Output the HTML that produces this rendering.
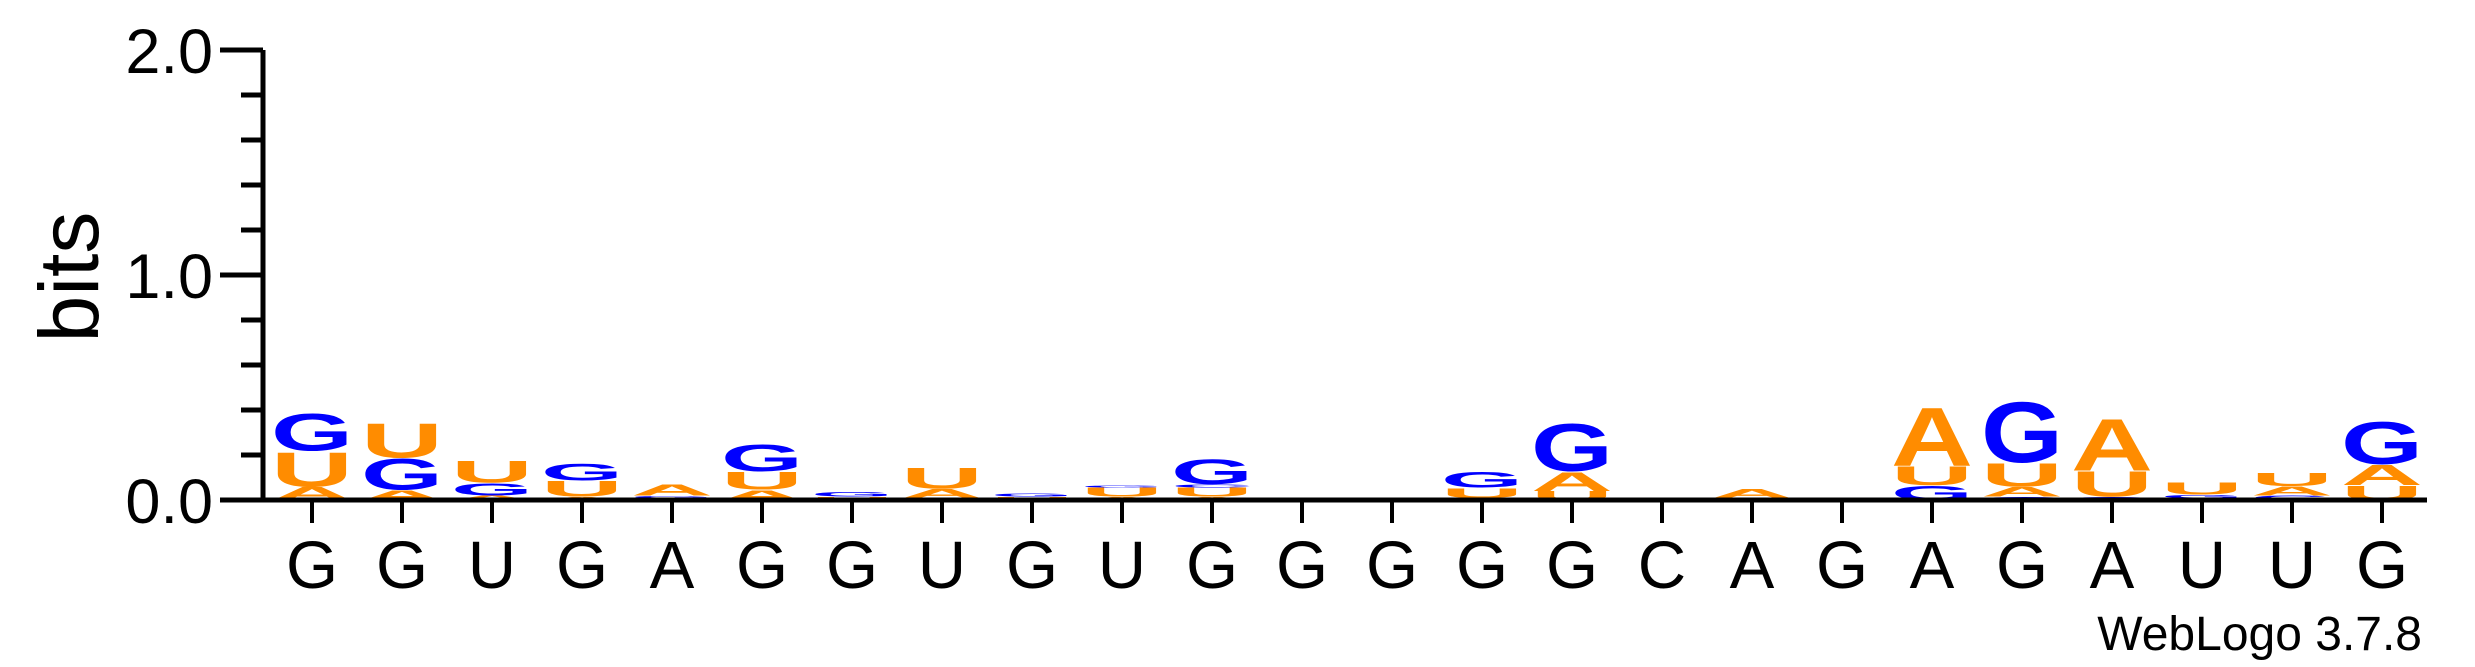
<!DOCTYPE html>
<html><head><meta charset="utf-8"><style>
html,body{margin:0;padding:0;background:#fff;}
svg{display:block;}
text{font-family:"Liberation Sans",Arial,sans-serif;}
</style></head><body>
<svg id="chart" width="2475" height="667" viewBox="0 0 2475 667" xmlns="http://www.w3.org/2000/svg">
<g id="marks"></g>
<g id="axes"></g>
<text x="69" y="277" font-size="84" text-anchor="middle" dominant-baseline="central" transform="rotate(-90 69 277)">bits</text>
<text x="2422" y="650" font-size="48" text-anchor="end">WebLogo 3.7.8</text>
</svg>
<script>
const positions = ["G","G","U","G","A","G","G","U","G","U","G","G","G","G","G","C","A","G","A","G","A","U","U","G"];
const stackLetters = [
 ["A","U","G"],["A","G","U"],["A","G","U"],["A","U","G"],["U","G","A"],["A","U","G"],
 ["U","G"],["G","A","U"],["A","U","G"],["A","U","G"],["A","U","C","G"],[],
 [],["A","U","G"],["U","A","G"],[],["U","A"],["G"],
 ["G","U","A"],["C","A","U","G"],["G","U","A"],["A","G","U"],["G","A","U"],["U","A","G"]
];
const stackBits = [
 [0.06,0.16,0.17],[0.046,0.143,0.159],[0.021,0.056,0.102],[0.015,0.071,0.077],[0.01,0.01,0.051],[0.046,0.082,0.123],
 [0.015,0.021],[0.01,0.041,0.097],[0.005,0.01,0.015],[0.015,0.041,0.01],[0.015,0.041,0.015,0.113],[],
 [],[0.01,0.046,0.071],[0.041,0.087,0.22],[],[0.01,0.041],[0.01],
 [0.067,0.087,0.271],[0.015,0.046,0.107,0.28],[0.015,0.117,0.24],[0.01,0.015,0.056],[0.021,0.041,0.061],[0.067,0.092,0.194]
];
const yTicks = [0,0.2,0.4,0.6,0.8,1.0,1.2,1.4,1.6,1.8,2.0];
const yTickLabels = ["0.0","","","","","1.0","","","","","2.0"];
const colors = {A:"#FF8C00",U:"#FF8C00",G:"#0000FF",C:"#0000FF"};
const NS="http://www.w3.org/2000/svg";
const xScale = i => 312 + 90*i;
const yScale = b => 500 - 225*b;
const marks=document.getElementById('marks');
const axes=document.getElementById('axes');
function mk(tag,attrs,parent){const e=document.createElementNS(NS,tag);for(const k in attrs)e.setAttribute(k,attrs[k]);parent.appendChild(e);return e;}
stackLetters.forEach((lets,i)=>{
  let cum=0;
  lets.forEach((L,j)=>{
    const h=stackBits[i][j];
    const y0=yScale(cum), y1=yScale(cum+h);
    cum+=h;
    const px=y0-y1; if(px<=0.3)return;
    const sy=px/72.9;
    const t=mk('text',{x:0,y:0,'font-size':100,'font-weight':'bold',fill:colors[L],textLength:82,lengthAdjust:'spacingAndGlyphs',
      transform:`translate(${xScale(i)-41},${y0}) scale(1,${sy})`},marks);
    
    
    t.textContent=L;
  });
});
let l=mk('line',{x1:263,y1:50,x2:263,y2:502,stroke:'#000','stroke-width':5},axes);


yTicks.forEach((v,k)=>{
  const major=yTickLabels[k]!=="";
  const tk=mk('line',{x1:major?220:241,y1:yScale(v),x2:263,y2:yScale(v),stroke:'#000','stroke-width':5},axes);
  
  
  if(major){
    const tl=mk('text',{x:213,y:yScale(v)+23,'font-size':63,'text-anchor':'end'},axes);
    
    
    tl.textContent=yTickLabels[k];
  }
});
l=mk('line',{x1:261,y1:500,x2:2427,y2:500,stroke:'#000','stroke-width':5},axes);


positions.forEach((p,i)=>{
  const tk=mk('line',{x1:xScale(i),y1:500,x2:xScale(i),y2:523,stroke:'#000','stroke-width':4},axes);
  
  
  const tl=mk('text',{x:xScale(i),y:588,'font-size':67,'text-anchor':'middle'},axes);
  
  
  tl.textContent=p;
});
</script>
</body></html>
